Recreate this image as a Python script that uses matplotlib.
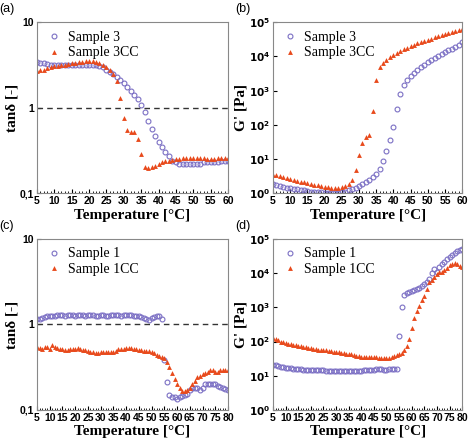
import numpy as np
import matplotlib
matplotlib.use("Agg")
import matplotlib.pyplot as plt
from matplotlib.ticker import FixedLocator, MultipleLocator, NullLocator

xa = list(range(5, 61))
tan_s3 = [3.4,3.35,3.3,3.25,3.2,3.2,3.2,3.2,3.2,3.15,3.15,3.15,3.15,3.15,3.2,3.2,3.2,3.15,3.1,3.0,2.8,2.6,2.45,2.3,2.1,1.95,1.75,1.55,1.4,1.25,1.08,0.9,0.7,0.57,0.47,0.4,0.35,0.3,0.27,0.24,0.23,0.22,0.22,0.22,0.22,0.22,0.22,0.22,0.23,0.23,0.23,0.23,0.23,0.24,0.24,0.24]
tan_s3cc = [2.7,2.75,2.8,2.9,3.0,3.05,3.1,3.15,3.2,3.25,3.3,3.35,3.4,3.45,3.5,3.5,3.5,3.45,3.35,3.2,3.0,2.75,2.5,2.05,1.3,0.75,0.55,0.52,0.52,0.43,0.29,0.2,0.195,0.2,0.21,0.22,0.23,0.235,0.24,0.245,0.25,0.25,0.255,0.26,0.26,0.26,0.26,0.26,0.255,0.25,0.25,0.25,0.255,0.26,0.26,0.26]
g_s3 = [1.8,1.7,1.6,1.5,1.45,1.4,1.35,1.3,1.25,1.2,1.15,1.1,1.1,1.05,1.05,1.0,1.0,1.0,1.0,1.0,1.05,1.1,1.2,1.3,1.45,1.6,1.8,2.1,2.5,3.0,3.6,5,8.5,17,35,85,290,800,1500,2000,2700,3300,4000,4800,5800,6800,8000,9200,10500,12000,13500,15000,17000,19000,22000,26000]
g_s3cc = [3.5,3.3,3.1,2.9,2.7,2.55,2.4,2.3,2.15,2.05,1.95,1.85,1.75,1.7,1.6,1.55,1.5,1.45,1.45,1.45,1.5,1.6,1.9,2.5,4.8,13,30,45,50,250,2000,5000,6500,8000,9500,11000,12500,14000,16000,18000,20000,22000,24000,26000,28000,30000,33000,36000,39000,42000,45000,48000,52000,56000,60000,64000]

xc = list(range(5, 81))
tan_s1 = [1.15,1.17,1.2,1.22,1.24,1.25,1.24,1.26,1.28,1.3,1.28,1.27,1.29,1.3,1.28,1.27,1.29,1.3,1.28,1.27,1.28,1.29,1.28,1.27,1.26,1.28,1.29,1.27,1.26,1.28,1.29,1.3,1.28,1.27,1.29,1.3,1.29,1.3,1.27,1.25,1.24,1.22,1.2,1.15,1.12,1.18,1.22,1.25,1.24,1.15,
          0.38,0.21,0.15,0.14,0.14,0.135,0.14,0.145,0.15,0.155,0.17,0.18,0.18,0.18,0.17,0.18,0.2,0.2,0.2,0.2,0.2,0.19,0.185,0.18,0.175,0.17]
tan_s1cc = [0.55,0.53,0.52,0.54,0.55,0.52,0.58,0.55,0.53,0.52,0.51,0.5,0.5,0.51,0.52,0.52,0.53,0.51,0.5,0.5,0.49,0.48,0.47,0.46,0.46,0.47,0.47,0.47,0.47,0.47,0.48,0.49,0.51,0.52,0.52,0.53,0.53,0.53,0.52,0.51,0.5,0.5,0.49,0.49,0.49,0.48,
            0.46,0.44,0.43,0.42,0.4,0.36,0.32,0.27,0.23,0.2,0.18,0.165,0.165,0.17,0.18,0.2,0.22,0.245,0.25,0.26,0.27,0.28,0.29,0.29,0.28,0.28,0.29,0.29,0.29,0.29]
g_s1 = [21,20,19,18,17.5,17,17,16.5,16,16,15.5,15.5,15,15,15,15,15,14.5,14.5,14.5,14.5,14,14,14,14,14,13.5,13.5,13.5,13.5,13.5,13.5,13.5,14,14,14,14.5,14.5,15,15,15,15.5,15.5,15.5,15,15,15.5,15.5,15.5,16,
        150,1000,2300,2600,2900,3100,3300,3500,3800,4200,4700,5500,7000,10000,13000,11000,15000,18000,22000,26000,30000,35000,40000,45000,48000,50000]
g_s1cc = [130,120,110,100,95,90,86,82,80,78,76,73,70,68,66,64,62,60,58,57,56,55,53,52,50,49,48,46,45,44,43,42,40,38,37,36,36,35,35,35,35,35,34,34,34,34,
          34,35,38,40,42,46,55,75,120,250,500,800,1100,1600,2100,3500,5500,6500,7500,9500,10500,11000,12500,14000,17000,19000,20000,19000,16000,15000]

fig = plt.figure(figsize=(4.74, 4.46), dpi=100)
ccol = '#7b6fc4'
tcol = '#e84a1c'
serif = 'Liberation Serif'
sans = 'Liberation Sans'

def setup(ax, xmax, ylab, gprime, label, legs):
    ax.set_yscale('log')
    ax.set_xlim(5, xmax)
    for s in ax.spines.values():
        s.set_color('#888888')
        s.set_linewidth(0.8)
    ax.xaxis.set_major_locator(MultipleLocator(5))
    ax.xaxis.set_minor_locator(MultipleLocator(1))
    ax.tick_params(axis='both', which='both', direction='in', labelsize=7.5, pad=2)
    ax.tick_params(which='major', length=3)
    ax.tick_params(which='minor', length=1.5)
    for t in ax.get_xticklabels() + ax.get_yticklabels():
        t.set_fontfamily(sans); t.set_fontweight('bold')
    if gprime:
        ax.set_ylim(1, 1e5)
        ticks = [1, 10, 100, 1000, 1e4, 1e5]
        ax.yaxis.set_major_locator(FixedLocator(ticks))
        ax.set_yticklabels([r'$\mathbf{10^{%d}}$' % i for i in range(6)])
    else:
        ax.set_ylim(0.1, 10)
        ax.yaxis.set_major_locator(FixedLocator([0.1, 1, 10]))
        ax.set_yticklabels(['0,1', '1', '10'], fontfamily=sans, fontweight='bold')
        ax.axhline(1, color='#333333', ls='--', lw=1, dashes=(4, 3))
    ax.yaxis.set_minor_locator(NullLocator())
    ax.set_xlabel('Temperature [°C]', fontfamily=serif, fontweight='bold', fontsize=11, labelpad=2)
    ax.set_ylabel(ylab, fontfamily=serif, fontweight='bold', fontsize=11, labelpad=1)
    ax.text(-0.2, 1.06, label, transform=ax.transAxes, fontsize=9, fontfamily=sans)
    ax.legend(legs, loc='upper left', frameon=False, prop={'family': serif, 'size': 10},
              handletextpad=0.4, borderaxespad=0.2, labelspacing=0.2, handlelength=1.2)

axes_pos = [[0.078, 0.567, 0.403, 0.383], [0.576, 0.567, 0.399, 0.383],
            [0.078, 0.081, 0.403, 0.383], [0.576, 0.081, 0.399, 0.383]]
data = [(xa, tan_s3, tan_s3cc, 60, 'tanδ [-]', False, '(a)', ['Sample 3', 'Sample 3CC']),
        (xa, g_s3, g_s3cc, 60, "G' [Pa]", True, '(b)', ['Sample 3', 'Sample 3CC']),
        (xc, tan_s1, tan_s1cc, 80, 'tanδ [-]', False, '(c)', ['Sample 1', 'Sample 1CC']),
        (xc, g_s1, g_s1cc, 80, "G' [Pa]", True, '(d)', ['Sample 1', 'Sample 1CC'])]
for pos, (x, c, t, xmax, ylab, gp, lab, legs) in zip(axes_pos, data):
    ax = fig.add_axes(pos)
    ax.plot(x, c, 'o', mfc='none', mec=ccol, ms=3.5, mew=0.8)
    ax.plot(x, t, '^', color=tcol, ms=3.5, mew=0)
    setup(ax, xmax, ylab, gp, lab, legs)

fig.savefig('out.png', dpi=100)
